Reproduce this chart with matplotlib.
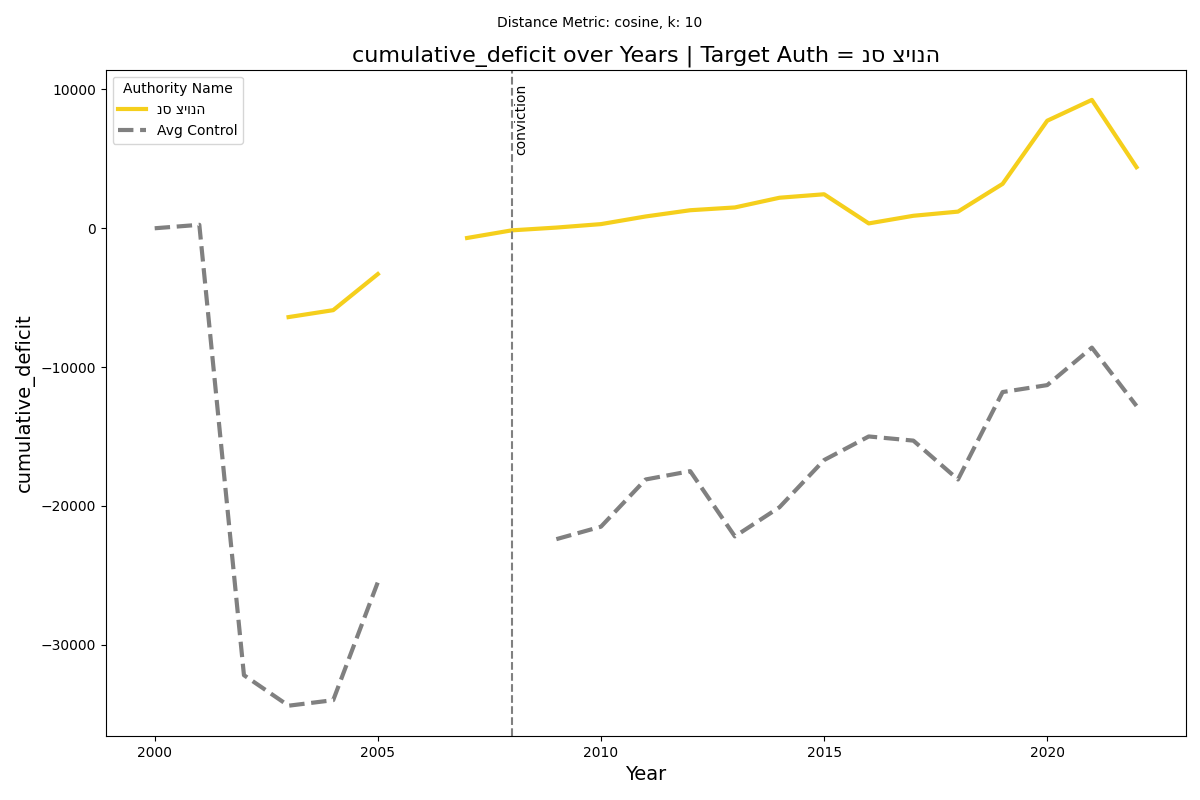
import numpy as np
import matplotlib
matplotlib.use("Agg")
import matplotlib.pyplot as plt

years = list(range(2000, 2023))
nan = np.nan
target = [nan, nan, nan, -6400, -5900, -3300, nan, -700, -150, 50, 300, 850, 1300,
          1500, 2200, 2450, 350, 900, 1200, 3200, 7750, 9250, 4400]
control = [0, 250, -32200, -34400, -34000, -25500, nan, nan, nan, -22400, -21500,
           -18100, -17500, -22200, -20100, -16700, -15000, -15300, -18100, -11800,
           -11300, -8600, -12800]
target_name = "נס ציונה"

fig, ax = plt.subplots(figsize=(12, 8), dpi=100)
ax.plot(years, target, color="#f5cf1c", lw=3, label=target_name)
ax.plot(years, control, color="gray", lw=3, ls="--", label="Avg Control")
ax.axvline(2008, color="gray", ls="--", lw=1.5)
ax.text(2008.05, 10400, "conviction", rotation=90, va="top", ha="left", fontsize=10)

ax.set_xlabel("Year", fontsize=14)
ax.set_ylabel("cumulative_deficit", fontsize=14)
ax.set_title(f"cumulative_deficit over Years | Target Auth = {target_name}", fontsize=16)
fig.suptitle("Distance Metric: cosine, k: 10", fontsize=10, y=0.98)
ax.set_xticks([2000, 2005, 2010, 2015, 2020])
ax.legend(title="Authority Name", loc="upper left")
fig.subplots_adjust(left=0.088, right=0.988, top=0.913, bottom=0.08)
fig.savefig("out.png")
